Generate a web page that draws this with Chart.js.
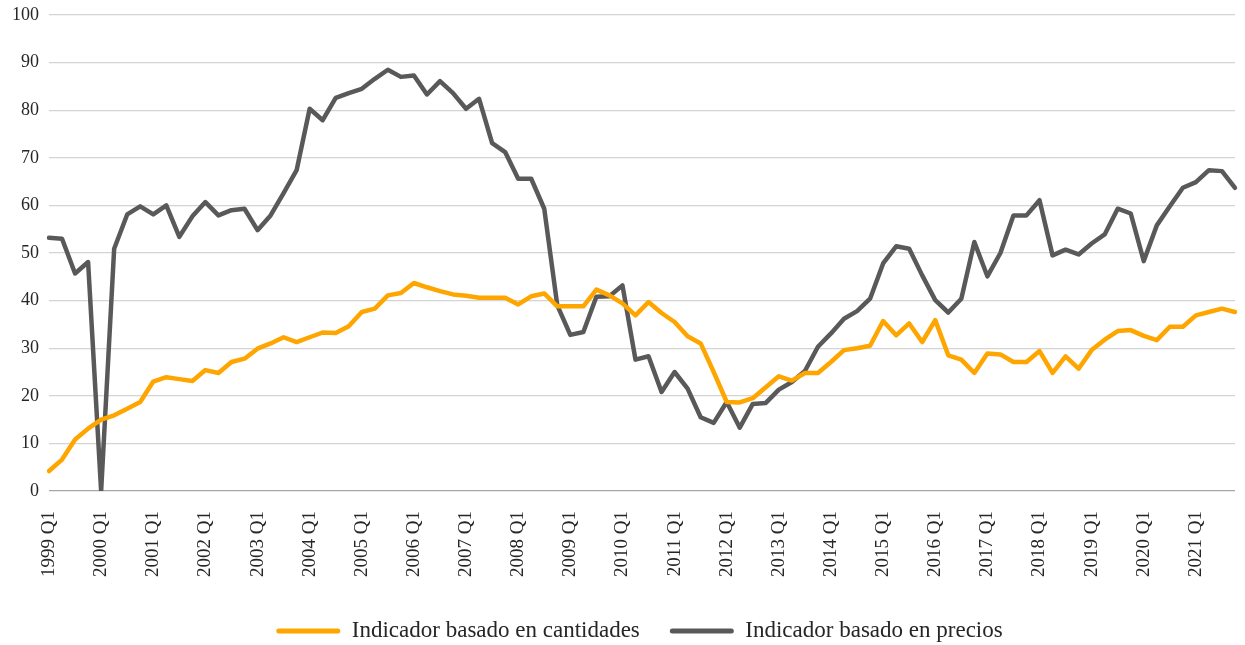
<!DOCTYPE html>
<html>
<head>
<meta charset="utf-8">
<script src="https://cdn.jsdelivr.net/npm/chart.js@4.4.0/dist/chart.umd.min.js"></script>
<style>
  body { margin: 0; background: #fff; }
  #wrap { width: 1245px; height: 645px; }
</style>
</head>
<body>
<div id="wrap"><canvas id="myChart" width="1245" height="645"></canvas></div>
<script>
'use strict';
// quarters 1999 Q1 .. 2021 Q4
let years = [];
for (let y = 1999; y <= 2021; y++) { years.push(y); }
let quarters = [];
for (let i = 0; i < years.length; i++) {
  for (let q = 1; q <= 4; q++) {
    quarters.push(years[i] + ' Q' + q);
  }
}

let cantidades = [
  4.2, 6.6, 10.8, 13.1, 15.0, 15.9, 17.3, 18.7, 23.0, 23.9, 23.5, 23.1,
  25.4, 24.8, 27.1, 27.8, 29.9, 31.0, 32.3, 31.3, 32.3, 33.3, 33.2, 34.6,
  37.6, 38.3, 41.1, 41.6, 43.7, 42.8, 42.0, 41.3, 41.0, 40.6, 40.6, 40.6,
  39.2, 40.9, 41.5, 38.8, 38.8, 38.8, 42.3, 41.1, 39.4, 36.9, 39.7, 37.4,
  35.5, 32.5, 31.0, 25.0, 18.7, 18.6, 19.5, 21.8, 24.1, 23.2, 24.8, 24.8,
  27.1, 29.6, 30.0, 30.5, 35.7, 32.7, 35.2, 31.3, 35.9, 28.5, 27.6, 24.8,
  28.9, 28.7, 27.1, 27.1, 29.4, 24.8, 28.3, 25.7, 29.6, 31.8, 33.6, 33.8,
  32.6, 31.7, 34.5, 34.5, 36.9, 37.6, 38.3, 37.6
];

let precios = [
  53.2, 53.0, 45.7, 48.1, 0.0, 50.9, 58.1, 59.8, 58.1, 60.0, 53.4, 57.7,
  60.7, 57.9, 59.0, 59.3, 54.8, 57.9, 62.6, 67.4, 80.3, 77.9, 82.6, 83.6,
  84.5, 86.6, 88.5, 87.0, 87.3, 83.3, 86.1, 83.6, 80.3, 82.4, 73.1, 71.2,
  65.6, 65.6, 59.3, 39.0, 32.8, 33.4, 40.8, 40.9, 43.2, 27.6, 28.3, 20.8,
  25.0, 21.5, 15.5, 14.3, 18.7, 13.3, 18.3, 18.5, 21.3, 22.9, 25.2, 30.3,
  33.1, 36.2, 37.8, 40.4, 47.8, 51.4, 50.9, 45.3, 40.1, 37.5, 40.4, 52.3,
  45.1, 50.0, 57.9, 57.9, 61.1, 49.5, 50.7, 49.7, 52.0, 53.9, 59.3, 58.3,
  48.3, 55.8, 59.8, 63.7, 64.9, 67.4, 67.2, 63.7
];

let yTicks = [0, 10, 20, 30, 40, 50, 60, 70, 80, 90, 100];

let seriesNames = ['Indicador basado en cantidades', 'Indicador basado en precios'];
let seriesColors = ['#FFA500', '#595959'];

let serif = "'Liberation Serif', 'DejaVu Serif', serif";

// legend keeps wide gaps between items, less space under the row,
// and is centred on the items themselves (not the trailing gap)
let legendTrim = {
  id: 'legendTrim',
  beforeLayout: function (chart) {
    let lg = chart.legend;
    if (lg && !lg._trimmed) {
      let fit = lg.fit;
      lg.fit = function () {
        fit.call(this);
        this.height -= 7.5;
        if (this.lineWidths && this.lineWidths.length) {
          this.lineWidths[0] -= 42;
        }
      };
      lg._trimmed = true;
    }
  }
};

let ctx = document.getElementById('myChart').getContext('2d');
let myChart = new Chart(ctx, {
  type: 'line',
  data: {
    labels: quarters,
    datasets: [{
      label: seriesNames[0],
      data: cantidades,
      borderColor: seriesColors[0],
      backgroundColor: seriesColors[0],
      borderWidth: 4.5,
      pointRadius: 0,
      tension: 0,
      borderJoinStyle: 'round',
      borderCapStyle: 'round'
    },
    {
      label: seriesNames[1],
      data: precios,
      borderColor: seriesColors[1],
      backgroundColor: seriesColors[1],
      borderWidth: 4.5,
      pointRadius: 0,
      tension: 0,
      borderJoinStyle: 'round',
      borderCapStyle: 'round'
    }]
  },
  plugins: [legendTrim],
  options: {
    responsive: false,
    animation: false,
    layout: { padding: { top: 15, left: 2, right: 10, bottom: 0 } },
    plugins: {
      tooltip: { enabled: false },
      legend: {
        display: true,
        position: 'bottom',
        labels: {
          boxWidth: 64,
          boxHeight: 5,
          padding: 30,
          color: '#262626',
          font: { family: serif, size: 23 },
          useBorderRadius: true,
          borderRadius: 2.5,
          generateLabels: function (chart) {
            return chart.data.datasets.map(function (ds, i) {
              return {
                text: ds.label,
                fillStyle: ds.borderColor,
                strokeStyle: ds.borderColor,
                fontColor: '#262626',
                lineWidth: 0,
                hidden: false,
                borderRadius: 2.5,
                datasetIndex: i
              };
            });
          }
        }
      }
    },
    scales: {
      x: {
        offset: false,
        grid: { display: false, drawTicks: false },
        border: { display: false },
        afterFit: function (scale) { scale.height = 98.5; },
        ticks: {
          autoSkip: false,
          minRotation: 90,
          maxRotation: 90,
          padding: 20,
          color: '#262626',
          font: { family: serif, size: 19 },
          callback: function (value) {
            let lab = this.getLabelForValue(value);
            return lab.endsWith('Q1') ? lab : null;
          }
        }
      },
      y: {
        min: yTicks[0],
        max: yTicks[yTicks.length - 1],
        border: { display: false },
        afterFit: function (scale) { scale.paddingTop = 0; },
        grid: {
          drawTicks: false,
          lineWidth: 1.3,
          color: function (c) { return c.tick.value === 0 ? '#a6a6a6' : '#d4d4d4'; }
        },
        afterBuildTicks: function (scale) {
          scale.ticks = yTicks.map(function (v) { return { value: v }; });
        },
        ticks: {
          padding: 10,
          color: '#262626',
          font: { family: serif, size: 18 }
        }
      }
    }
  }
});
</script>
</body>
</html>
